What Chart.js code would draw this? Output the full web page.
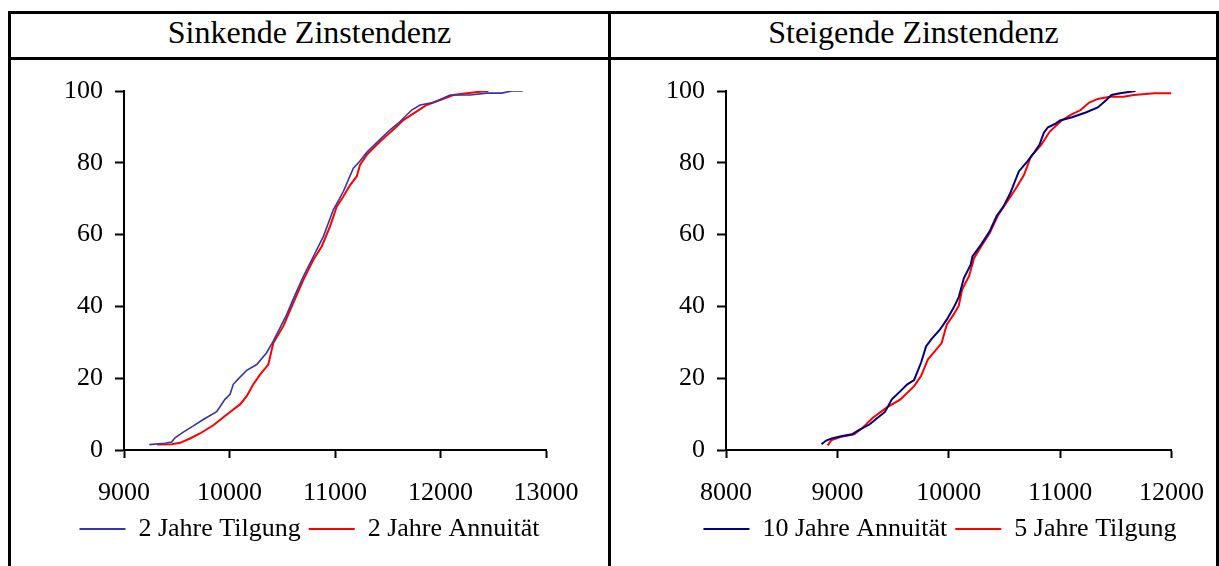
<!DOCTYPE html>
<html>
<head>
<meta charset="utf-8">
<script src="https://cdn.jsdelivr.net/npm/chart.js@4.4.1/dist/chart.umd.min.js"></script>
<style>
    body { margin: 0; background: #fff; width: 1219px; height: 566px; overflow: hidden; position: relative; }
    .linie { position: absolute; background: #000; }
    .titel { position: absolute; top: 11px; height: 43px; line-height: 43px; text-align: center;
             font-family: "Liberation Serif", "Times New Roman", serif; font-size: 32px; color: #000; }
    canvas { position: absolute; }
</style>
</head>
<body>
    <!-- Tabellenrahmen -->
    <div class="linie" style="left:8px; top:11px; width:1211px; height:3px;"></div>
    <div class="linie" style="left:8px; top:57px; width:1211px; height:3px;"></div>
    <div class="linie" style="left:8px; top:11px; width:3px; height:555px;"></div>
    <div class="linie" style="left:608px; top:11px; width:3px; height:555px;"></div>
    <div class="linie" style="left:1216px; top:11px; width:3px; height:555px;"></div>

    <div class="titel" style="left:11px; width:597px;">Sinkende Zinstendenz</div>
    <div class="titel" style="left:611px; width:605px;">Steigende Zinstendenz</div>

    <div style="position:absolute; left:11px; top:60px; width:597px; height:506px;">
        <canvas id="chartSinkend"></canvas>
    </div>
    <!-- etwas breiter als die Zelle, damit die letzte Achsenbeschriftung Platz hat -->
    <div style="position:absolute; left:612px; top:60px; width:612px; height:506px;">
        <canvas id="chartSteigend"></canvas>
    </div>

<script>
// Sinkende Zinstendenz
var xTicksSinkend = [9000, 10000, 11000, 12000, 13000];
var tilgung2X = [9240, 9389, 9452, 9483, 9562, 9657, 9752, 9878, 9957, 10005, 10036, 10084, 10163, 10258, 10352, 10415,
    10542, 10605, 10700, 10795, 10890, 10984, 11079, 11174, 11237, 11301, 11395, 11522, 11617, 11727, 11806, 11933,
    12091, 12281, 12438, 12580, 12675, 12779];
var tilgung2Y = [1.5, 1.9, 2.2, 3.4, 5.0, 6.7, 8.5, 10.7, 14.1, 15.5, 18.3, 19.8, 22.2, 23.8, 27.1, 30.3,
    37.7, 42.1, 48.4, 53.9, 59.5, 66.9, 72.0, 78.5, 80.5, 82.9, 85.6, 89.2, 91.5, 94.7, 96.1, 96.8,
    98.9, 98.9, 99.4, 99.4, 100, 100];
var annuitaet2X = [9316, 9452, 9531, 9626, 9720, 9847, 10005, 10100, 10163, 10226, 10289, 10368, 10415, 10510, 10605,
    10700, 10795, 10874, 10953, 11016, 11079, 11143, 11206, 11237, 11301, 11427, 11585, 11648, 11775, 11869, 11996,
    12122, 12249, 12375, 12454];
var annuitaet2Y = [1.5, 1.6, 2.0, 3.2, 4.6, 6.9, 10.6, 12.7, 15.0, 18.3, 21.0, 23.8, 29.8, 34.5, 41.0,
    47.4, 53.0, 56.7, 62.3, 67.8, 70.6, 73.8, 76.2, 79.4, 82.2, 85.9, 90.1, 91.9, 94.3, 96.1, 97.5,
    98.9, 99.4, 99.8, 100];

// Steigende Zinstendenz
var xTicksSteigend = [8000, 9000, 10000, 11000, 12000];
var annuitaet10X = [8857, 8903, 8949, 9042, 9134, 9196, 9288, 9350, 9427, 9489, 9566, 9628, 9689, 9751, 9797, 9843,
    9920, 9982, 10043, 10090, 10136, 10197, 10213, 10290, 10367, 10429, 10490, 10552, 10629, 10706, 10768, 10814,
    10854, 10891, 10953, 10999, 11107, 11230, 11338, 11415, 11461, 11538, 11677];
var annuitaet10Y = [1.6, 2.7, 3.2, 3.9, 4.4, 5.6, 7.1, 8.7, 10.6, 14.1, 16.4, 18.3, 19.5, 24.3, 28.9, 30.8,
    33.5, 36.3, 39.6, 42.6, 47.9, 51.6, 53.9, 57.2, 60.9, 65.1, 67.8, 71.5, 77.6, 80.4, 82.9, 85.0,
    88.4, 89.9, 90.8, 91.8, 92.7, 94.0, 95.4, 97.5, 98.9, 99.4, 100];
var tilgung5X = [8912, 8949, 9026, 9150, 9227, 9319, 9442, 9566, 9689, 9751, 9812, 9874, 9936, 9982, 10043, 10090,
    10120, 10182, 10228, 10290, 10367, 10444, 10521, 10614, 10675, 10737, 10830, 10907, 11014, 11091, 11184, 11261,
    11338, 11446, 11569, 11661, 11846, 11999];
var tilgung5Y = [1.3, 2.8, 3.6, 4.4, 6.2, 9.0, 11.8, 14.1, 17.8, 20.6, 25.2, 27.5, 29.8, 34.9, 37.7, 40.2,
    44.7, 48.4, 53.5, 56.7, 60.4, 65.5, 69.0, 73.4, 76.6, 81.7, 85.0, 88.7, 91.8, 93.3, 94.7, 96.8,
    97.8, 98.4, 98.4, 98.9, 99.4, 99.4];

var yTicks = [0, 20, 40, 60, 80, 100];

Chart.defaults.font.family = '"Liberation Serif", "Times New Roman", serif';
Chart.defaults.font.size = 26;
Chart.defaults.color = '#000';

// Legende horizontal verschieben (Excel-Position), nach dem Layout
var legendePosition = {
    id: 'legendePosition',
    afterLayout: function (chart, args, opts) {
        var lg = chart.legend;
        if (!lg) return;
        lg.left = opts.links;
        lg.right = opts.rechts;
        lg.width = opts.rechts - opts.links;
    }
};

function paare(xs, ys) {
    return xs.map(function (x, i) { return { x: x, y: ys[i] }; });
}

function serie(label, xs, ys, farbe, breite) {
    return {
        label: label,
        data: paare(xs, ys),
        borderColor: farbe,
        backgroundColor: farbe,
        borderWidth: breite,
        pointRadius: 0,
        tension: 0
    };
}

function montaDiagramm(id, datasets, xTicks, yBreite, rechts, legLinks, legRechts) {
    var ctx = document.getElementById(id).getContext('2d');
    return new Chart(ctx, {
        type: 'line',
        data: { datasets: datasets },
        plugins: [legendePosition],
        options: {
            responsive: true,
            maintainAspectRatio: false,
            animation: false,
            layout: { padding: { top: 31, right: rechts, bottom: 14, left: 0 } },
            plugins: {
                tooltip: { enabled: false },
                legendePosition: { links: legLinks, rechts: legRechts },
                legend: {
                    position: 'bottom',
                    labels: {
                        boxWidth: 46,
                        boxHeight: 2,
                        padding: 8,
                        generateLabels: function (chart) {
                            var items = Chart.defaults.plugins.legend.labels.generateLabels(chart);
                            items.forEach(function (it) { it.lineWidth = 0; it.fillStyle = it.strokeStyle; });
                            return items;
                        }
                    }
                }
            },
            scales: {
                x: {
                    type: 'linear',
                    min: xTicks[0],
                    max: xTicks[xTicks.length - 1],
                    afterBuildTicks: function (s) { s.ticks = xTicks.map(function (v) { return { value: v }; }); },
                    afterFit: function (s) { s.height = 58; },
                    ticks: { padding: 20, maxRotation: 0, callback: function (v) { return String(v); } },
                    grid: { drawOnChartArea: false, tickLength: 8, tickColor: '#000', tickWidth: 2 },
                    border: { display: true, color: '#000', width: 2 }
                },
                y: {
                    min: 0,
                    max: 100,
                    afterBuildTicks: function (s) { s.ticks = yTicks.map(function (v) { return { value: v }; }); },
                    afterFit: function (s) { s.width = yBreite; },
                    ticks: { padding: 12, callback: function (v) { return String(v); } },
                    grid: { drawOnChartArea: false, tickLength: 9, tickColor: '#000', tickWidth: 2 },
                    border: { display: true, color: '#000', width: 2 }
                }
            }
        }
    });
}

montaDiagramm('chartSinkend', [
    serie('2 Jahre Tilgung', tilgung2X, tilgung2Y, '#3535a5', 1.6),
    serie('2 Jahre Annuität', annuitaet2X, annuitaet2Y, '#ff0000', 2)
], xTicksSinkend, 113, 62, 0, 597);

montaDiagramm('chartSteigend', [
    serie('10 Jahre Annuität', annuitaet10X, annuitaet10Y, '#000080', 2),
    serie('5 Jahre Tilgung', tilgung5X, tilgung5Y, '#ff0000', 2)
], xTicksSteigend, 114, 52, 52, 604);
</script>
</body>
</html>
